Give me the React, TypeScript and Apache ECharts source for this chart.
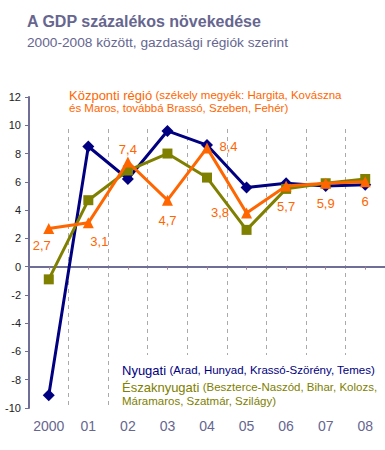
import React, { useEffect, useRef } from "react";
import * as echarts from "echarts";

const years = ["2000", "01", "02", "03", "04", "05", "06", "07", "08"];
const nyugati = [-9.1, 8.5, 6.2, 9.6, 8.6, 5.6, 5.9, 5.7, 5.8];
const eszaknyugati = [-0.9, 4.7, 6.8, 8.0, 6.3, 2.6, 5.5, 5.9, 6.2];
const kozponti = [2.7, 3.1, 7.4, 4.7, 8.4, 3.8, 5.7, 5.9, 6.0];
const kozpontiLabelPos = ["left-below", "right-below", "top", "bottom", "right", "left", "bottom", "bottom", "bottom"];

const NAVY = "#000080";
const OLIVE = "#808000";
const ORANGE = "#FF6600";
const SLATE = "#66668F";
const FONT = "'Liberation Sans', Arial, sans-serif";

export default function App() {
  const ref = useRef<HTMLDivElement>(null);
  useEffect(() => {
    const chart = echarts.init(ref.current!, null, { renderer: "svg" });
    const labelFor = (pos: string) => {
      const base: any = { show: true, color: ORANGE, fontSize: 13, fontFamily: FONT, formatter: (p: any) => String(p.value).replace(".", ",") };
      if (pos === "left-below") return { ...base, position: "bottom", offset: [-7, 0] };
      if (pos === "right-below") return { ...base, position: "bottom", offset: [11, 2] };
      if (pos === "right") return { ...base, position: "right", distance: 7, offset: [0, -1] };
      if (pos === "left") return { ...base, position: "left", distance: 12 };
      if (pos === "top") return { ...base, position: "top", distance: 1 };
      return { ...base, position: "bottom", distance: 8 };
    };
    chart.setOption({
      animation: false,
      backgroundColor: "#fff",
      grid: { left: 29, top: 97, width: 360, height: 311, containLabel: false },
      xAxis: [
        {
          type: "category",
          data: years,
          position: "bottom",
          axisLine: { onZero: true, lineStyle: { color: "#6E6E96", width: 2 } },
          axisTick: { show: true, alignWithLabel: true, inside: false, length: 3, lineStyle: { color: "#9A8090" } },
          axisLabel: { show: false },
          splitLine: { show: true, lineStyle: { color: "#AAAAAA", type: [4, 4], width: 1 } },
        },
        {
          type: "category",
          data: years,
          position: "bottom",
          axisLine: { show: false, onZero: false },
          axisTick: { show: false },
          axisLabel: { show: true, interval: 0, color: SLATE, fontSize: 14, fontFamily: FONT, margin: 11 },
          splitLine: { show: false },
        },
      ],
      yAxis: {
        type: "value",
        min: -10,
        max: 12,
        interval: 2,
        axisLine: { show: true, lineStyle: { color: "#6E6E96", width: 2 } },
        axisTick: { show: true, length: 4, lineStyle: { color: "#6E6E96" } },
        axisLabel: { color: "#222", fontSize: 11, fontFamily: FONT, margin: 8 },
        splitLine: { show: false },
      },
      graphic: [
        { type: "rect", z: 1, shape: { x: 60, y: 84, width: 330, height: 42 }, style: { fill: "#fff" } },
        { type: "rect", z: 1, shape: { x: 116, y: 355, width: 274, height: 52 }, style: { fill: "#fff" } },
        {
          type: "text", z: 5, left: 27, top: 13,
          style: { text: "A GDP százalékos növekedése", fill: SLATE, font: `bold 16px ${FONT}` },
        },
        {
          type: "text", z: 5, left: 27, top: 35,
          style: { text: "2000-2008 között, gazdasági régiók szerint", fill: SLATE, font: `13.7px ${FONT}` },
        },
        {
          type: "text", z: 5, x: 69, y: 95,
          style: {
            text: "{a|Központi régió} {b|(székely megyék: Hargita, Kovászna}",
            verticalAlign: "middle",
            rich: {
              a: { fill: ORANGE, fontSize: 13, fontFamily: FONT },
              b: { fill: ORANGE, fontSize: 11.5, fontFamily: FONT },
            },
          },
        },
        {
          type: "text", z: 5, x: 69, y: 108,
          style: { text: "és Maros, továbbá Brassó, Szeben, Fehér)", fill: ORANGE, font: `11.5px ${FONT}`, verticalAlign: "middle" },
        },
        {
          type: "text", z: 5, x: 122, y: 370,
          style: {
            text: "{a|Nyugati} {b|(Arad, Hunyad, Krassó-Szörény, Temes)}",
            verticalAlign: "middle",
            rich: {
              a: { fill: NAVY, fontSize: 13, fontFamily: FONT },
              b: { fill: NAVY, fontSize: 11.5, fontFamily: FONT },
            },
          },
        },
        {
          type: "text", z: 5, x: 122, y: 387,
          style: {
            text: "{a|Északnyugati} {b|(Beszterce-Naszód, Bihar, Kolozs,}",
            verticalAlign: "middle",
            rich: {
              a: { fill: OLIVE, fontSize: 13, fontFamily: FONT },
              b: { fill: OLIVE, fontSize: 11.5, fontFamily: FONT },
            },
          },
        },
        {
          type: "text", z: 5, x: 122, y: 401,
          style: { text: "Máramaros, Szatmár, Szilágy)", fill: OLIVE, font: `11.5px ${FONT}`, verticalAlign: "middle" },
        },
      ],
      series: [
        {
          name: "Nyugati", type: "line", data: nyugati, z: 3,
          symbol: "diamond", symbolSize: 12,
          lineStyle: { color: NAVY, width: 3 }, itemStyle: { color: NAVY },
        },
        {
          name: "Északnyugati", type: "line", data: eszaknyugati, z: 3,
          symbol: "rect", symbolSize: 10,
          lineStyle: { color: OLIVE, width: 3 }, itemStyle: { color: OLIVE },
        },
        {
          name: "Központi", type: "line", z: 4,
          data: kozponti.map((v, i) => ({ value: v, label: labelFor(kozpontiLabelPos[i]) })),
          symbol: "triangle", symbolSize: 11,
          lineStyle: { color: ORANGE, width: 3 }, itemStyle: { color: ORANGE },
        },
      ],
    });
    return () => chart.dispose();
  }, []);
  return <div ref={ref} style={{ position: "fixed", left: 0, top: 0, width: 385, height: 450 }} />;
}
